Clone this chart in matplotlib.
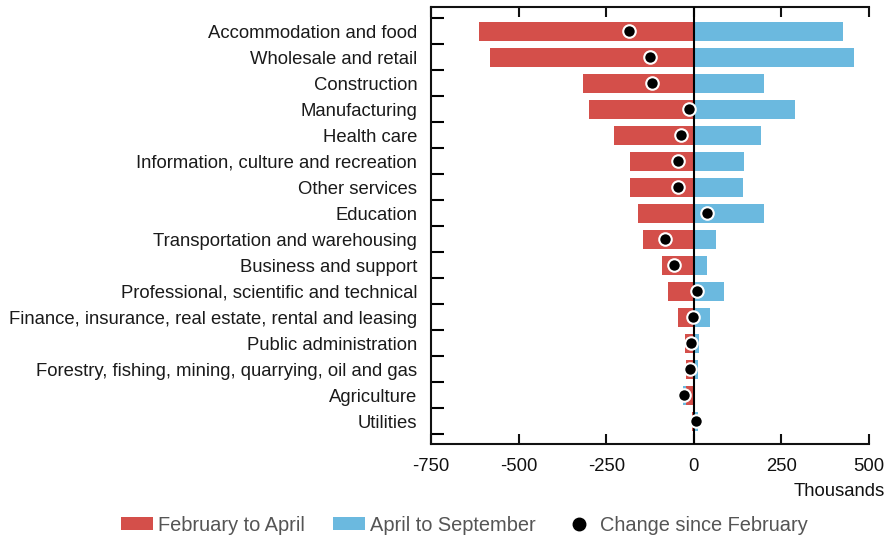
import matplotlib
matplotlib.use("Agg")
import matplotlib.pyplot as plt
import numpy as np
from matplotlib.patches import Patch
from matplotlib.lines import Line2D

plt.rcParams['font.family'] = ['Liberation Sans', 'DejaVu Sans']

categories = [
    "Accommodation and food",
    "Wholesale and retail",
    "Construction",
    "Manufacturing",
    "Health care",
    "Information, culture and recreation",
    "Other services",
    "Education",
    "Transportation and warehousing",
    "Business and support",
    "Professional, scientific and technical",
    "Finance, insurance, real estate, rental and leasing",
    "Public administration",
    "Forestry, fishing, mining, quarrying, oil and gas",
    "Agriculture",
    "Utilities",
]
feb_to_apr = [-614, -583, -315, -300, -229, -183, -181, -158, -144, -92, -75, -44, -24, -21, -21, -4]
apr_to_sep = [427, 458, 199, 290, 193, 142, 139, 199, 62, 39, 85, 45, 16, 13, -9, 12]
change_since_feb = [-186, -125, -119, -13, -37, -45, -45, 37, -81, -57, 10, -2, -8, -10, -29, 6]
x_ticks = [-750, -500, -250, 0, 250, 500]

RED = "#D44F4A"
BLUE = "#6BB9DF"
FS = 13.3

fig = plt.figure(figsize=(8.88, 5.37), dpi=100)
ax = fig.add_axes([0.4854, 0.1732, 0.4932, 0.8138])

y = np.arange(len(categories))
red = np.array(feb_to_apr, dtype=float)
blue = np.array(apr_to_sep, dtype=float)
blue_left = np.where((blue < 0) & (red < 0), red, 0.0)

h = 0.72
ax.barh(y, blue, left=blue_left, height=h, color=BLUE, zorder=2)
ax.barh(y, red, height=h, color=RED, zorder=3)
ax.axvline(0, color="black", lw=1.5, zorder=4)
ax.plot(change_since_feb, y, 'o', color="black", markersize=9,
        markeredgecolor="white", markeredgewidth=1.5, zorder=5, clip_on=False)

ax.set_xlim(-750, 500)
ax.set_ylim(15.87, -0.93)
ax.set_xticks(x_ticks)
ax.set_xticklabels([str(v) for v in x_ticks])
ax.tick_params(axis='x', direction='in', length=7, width=1.5, top=True, bottom=True,
               labelsize=FS, pad=10, colors='#111111')

ax.set_yticks(y)
ax.set_yticklabels(categories)
ax.tick_params(axis='y', which='major', length=0, labelsize=FS, pad=10, labelcolor='#1a1a1a')
ax.set_yticks(np.arange(-0.5, len(categories) + 0.5, 1), minor=True)
ax.tick_params(axis='y', which='minor', direction='in', length=9, width=1.5, left=True)

for s in ['left', 'top', 'bottom']:
    ax.spines[s].set_linewidth(1.5)
    ax.spines[s].set_color('#111111')
ax.spines['right'].set_visible(False)

fig.text(0.996, 0.084, "Thousands", ha='right', va='center', fontsize=FS, color='#111111')

handles = [
    Patch(facecolor=RED, edgecolor='none', label="February to April"),
    Patch(facecolor=BLUE, edgecolor='none', label="April to September"),
    Line2D([], [], marker='o', linestyle='none', color='black', markersize=9,
           label="Change since February"),
]
leg = fig.legend(handles=handles, loc='center', bbox_to_anchor=(0.523, 0.022), ncol=3,
                 frameon=False, fontsize=14.4, handlelength=1.6, handleheight=0.65,
                 handletextpad=0.25, columnspacing=1.4)
for t in leg.get_texts():
    t.set_color('#555555')

fig.savefig("out.png", dpi=100)
